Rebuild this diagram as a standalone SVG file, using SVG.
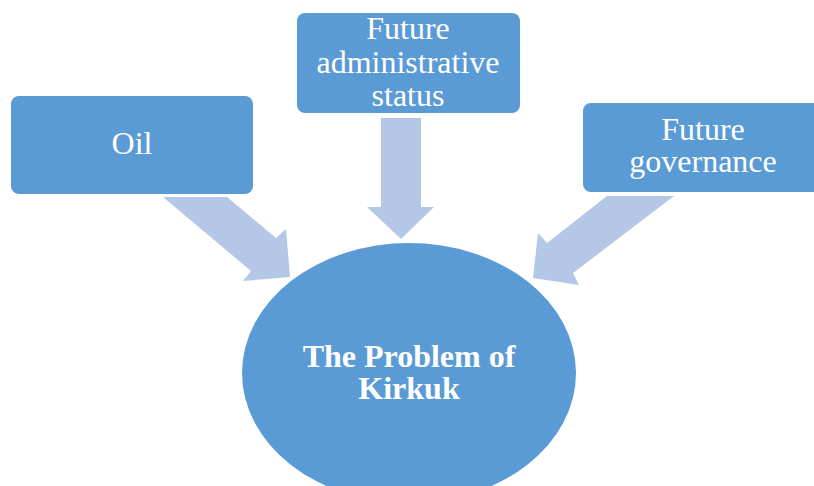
<svg xmlns="http://www.w3.org/2000/svg" width="814" height="486" viewBox="0 0 814 486">
<style>
.box{fill:#5B9BD5}
.arr{fill:#B4C7E7}
.t{font-family:"Liberation Serif","Times New Roman",serif;font-size:32px;fill:#fff;text-anchor:middle}
.b{font-weight:bold}
</style>
<rect width="814" height="486" fill="#fff"/>
<g id="connectors">
<polygon class="arr" points="163,197 227,197 276,238 286,229 290,277 243,281 251,271"/>
<polygon class="arr" points="381,118 421,118 421,207 434,207 401,239 367,207 381,207"/>
<polygon class="arr" points="607,196 674,196 573,273 579,285 533,278 538,233 547,243"/>
</g>
<g id="oil">
<rect class="box" x="11" y="96" width="242" height="98" rx="8"/>
<text class="t" x="132" y="154">Oil</text>
</g>
<g id="admin">
<rect class="box" x="297" y="13" width="223" height="100" rx="8"/>
<text class="t" x="408" y="39">Future</text>
<text class="t" x="408" y="73">administrative</text>
<text class="t" x="408" y="106">status</text>
</g>
<g id="gov">
<rect class="box" x="583" y="103" width="240" height="89" rx="8"/>
<text class="t" x="703" y="140">Future</text>
<text class="t" x="703" y="172">governance</text>
</g>
<g id="kirkuk">
<ellipse class="box" cx="409" cy="373" rx="167" ry="130"/>
<text class="t b" x="409" y="367">The Problem of</text>
<text class="t b" x="409" y="399">Kirkuk</text>
</g>
</svg>
